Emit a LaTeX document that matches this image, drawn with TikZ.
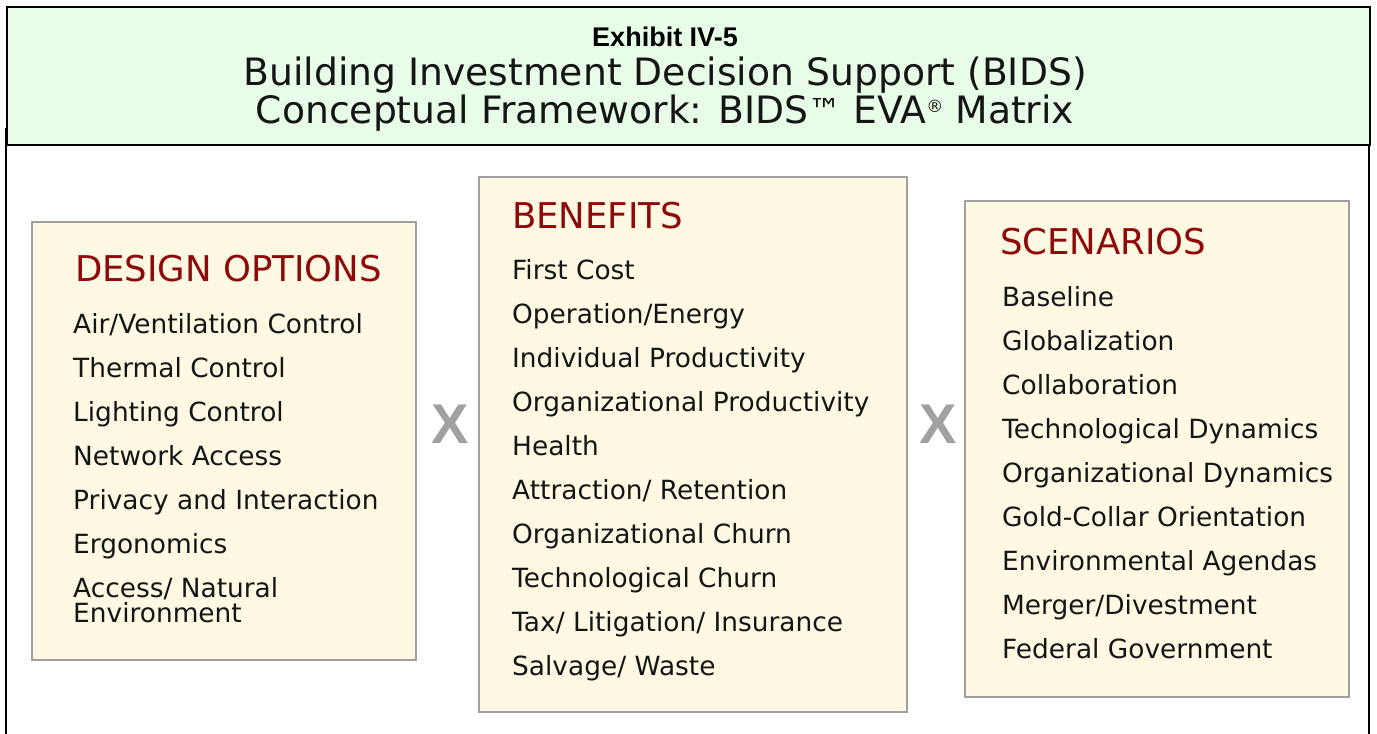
\documentclass[tikz,border=0pt]{standalone}
\usepackage{fontspec}
\setmainfont{DejaVu Sans}
\newfontfamily\arialfont{Liberation Sans}
\definecolor{hdrgreen}{HTML}{E8FDE8}
\definecolor{cream}{HTML}{FFF8E2}
\definecolor{boxgray}{HTML}{A0A0A0}
\definecolor{headred}{HTML}{8E0A0A}
\definecolor{xgray}{HTML}{A0A0A0}
\definecolor{txt}{HTML}{151515}
\begin{document}
\begin{tikzpicture}[x=1pt,y=-1pt,
  panel/.style={draw=boxgray,line width=2pt,fill=cream},
  itemtxt/.style={anchor=base west,inner sep=0pt,text=txt,font=\fontsize{26.4}{30}\selectfont},
  headtxt/.style={anchor=base west,inner sep=0pt,text=headred,font=\fontsize{35.5}{38}\selectfont},
  titletxt/.style={anchor=base,inner sep=0pt,text=txt,font=\fontsize{37.7}{40}\selectfont},
  times/.style={anchor=center,inner sep=0pt,text=xgray,font=\arialfont\bfseries\fontsize{56}{56}\selectfont}]
\useasboundingbox (0,0) rectangle (1377,734);
\fill[white] (0,0) rectangle (1377,734);
% outer frame
\draw[line width=2pt] (6,128) -- (6,734);
\draw[line width=2pt] (1369,145) -- (1369,734);
% header
\draw[line width=2pt,fill=hdrgreen] (7,7) rectangle (1370,145);
\node[anchor=base,inner sep=0pt,text=black,font=\arialfont\bfseries\fontsize{27}{30}\selectfont] (exh) at (665,46) {Exhibit IV-5};
\node[titletxt] (t1) at (665,85) {Building Investment Decision Support (BIDS)};
\node[titletxt] (t2) at (665,123) {Conceptual Framework: BIDS\raisebox{1pt}{\fontsize{33}{33}\selectfont ™} EVA\raisebox{11pt}{\fontsize{17}{17}\selectfont ®} Matrix};
% panels
\draw[panel] (32,222) rectangle (416,660);
\draw[panel] (479,177) rectangle (907,712);
\draw[panel] (965,201) rectangle (1349,697);
% multiplication signs
\node[times] (x1) at (450,424) {X};
\node[times] (x2) at (938,424) {X};
% design options
\node[headtxt] (dh) at (75,281) {DESIGN OPTIONS};
\node[itemtxt] (d1) at (73,333) {Air/Ventilation Control};
\node[itemtxt] (d2) at (73,377) {Thermal Control};
\node[itemtxt] (d3) at (73,421) {Lighting Control};
\node[itemtxt] (d4) at (73,465) {Network Access};
\node[itemtxt] (d5) at (73,509) {Privacy and Interaction};
\node[itemtxt] (d6) at (73,553) {Ergonomics};
\node[itemtxt] (d7) at (73,597) {Access/ Natural};
\node[itemtxt] (d7b) at (73,622) {Environment};
% benefits
\node[headtxt] (bh) at (512,228) {BENEFITS};
\node[itemtxt] (b1) at (512,279) {First Cost};
\node[itemtxt] (b2) at (512,323) {Operation/Energy};
\node[itemtxt] (b3) at (512,367) {Individual Productivity};
\node[itemtxt] (b4) at (512,411) {Organizational Productivity};
\node[itemtxt] (b5) at (512,455) {Health};
\node[itemtxt] (b6) at (512,499) {Attraction/ Retention};
\node[itemtxt] (b7) at (512,543) {Organizational Churn};
\node[itemtxt] (b8) at (512,587) {Technological Churn};
\node[itemtxt] (b9) at (512,631) {Tax/ Litigation/ Insurance};
\node[itemtxt] (b10) at (512,675) {Salvage/ Waste};
% scenarios
\node[headtxt] (sh) at (1000,254) {SCENARIOS};
\node[itemtxt] (s1) at (1002,306) {Baseline};
\node[itemtxt] (s2) at (1002,350) {Globalization};
\node[itemtxt] (s3) at (1002,394) {Collaboration};
\node[itemtxt] (s4) at (1002,438) {Technological Dynamics};
\node[itemtxt] (s5) at (1002,482) {Organizational Dynamics};
\node[itemtxt] (s6) at (1002,526) {Gold-Collar Orientation};
\node[itemtxt] (s7) at (1002,570) {Environmental Agendas};
\node[itemtxt] (s8) at (1002,614) {Merger/Divestment};
\node[itemtxt] (s9) at (1002,658) {Federal Government};
\end{tikzpicture}
\end{document}
